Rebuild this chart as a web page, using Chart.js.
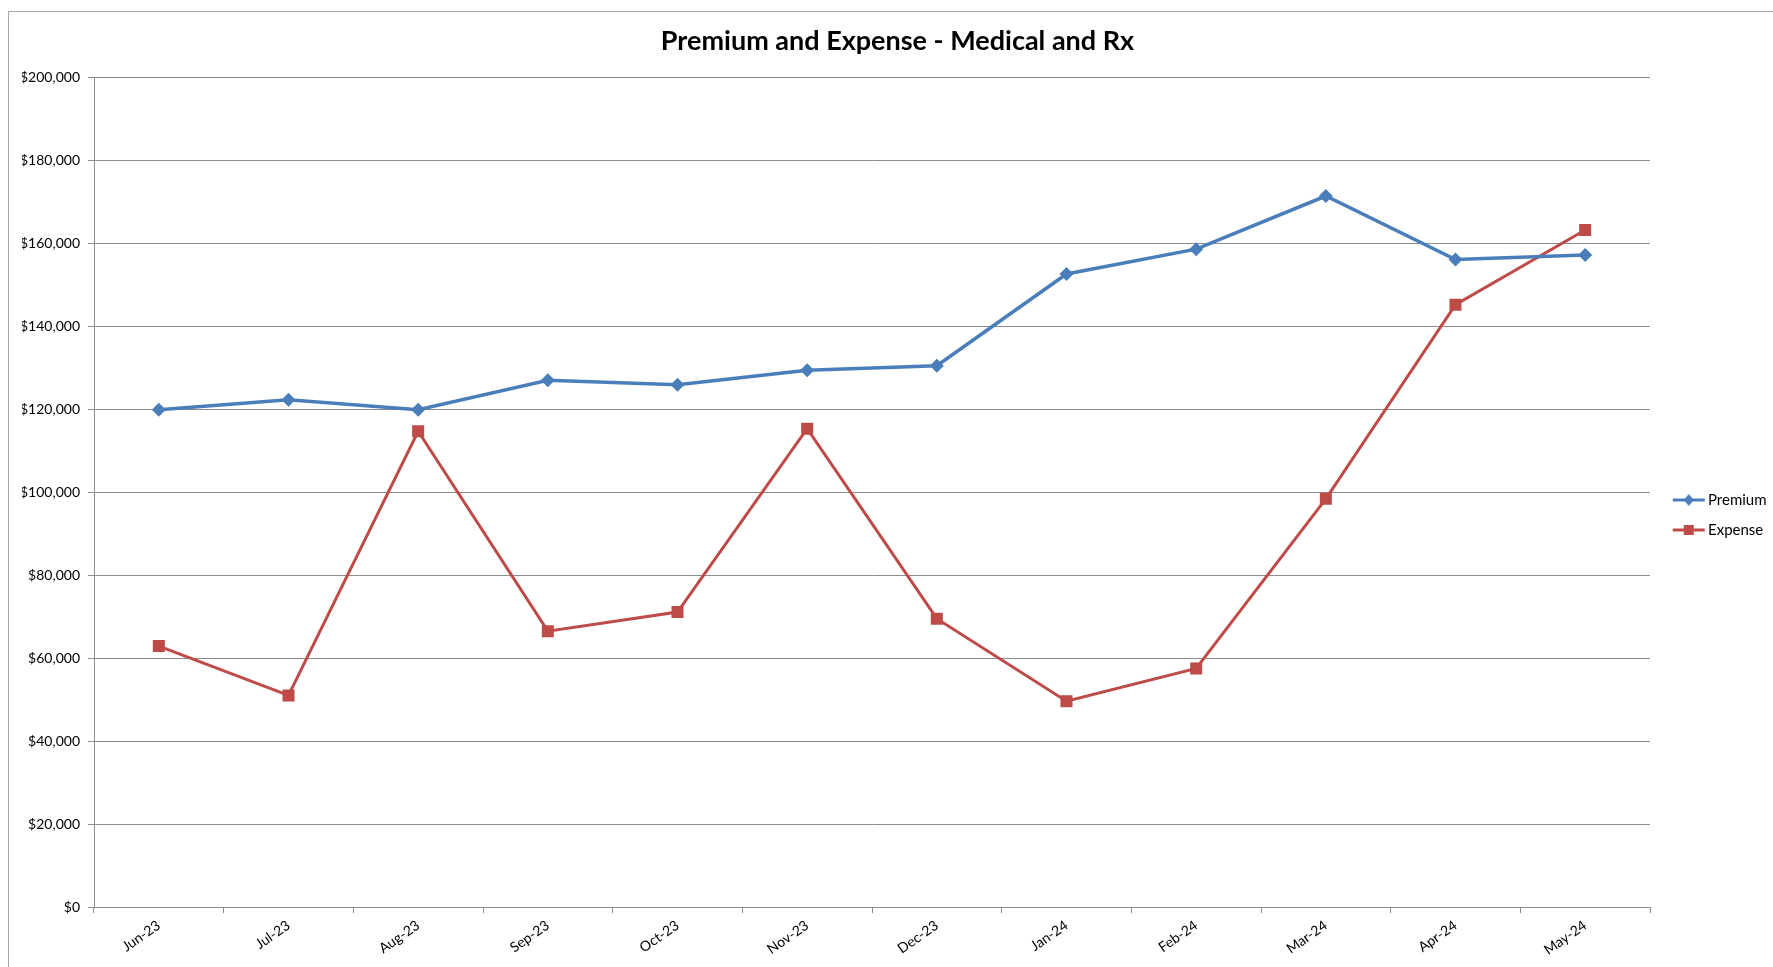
<!DOCTYPE html>
<html lang="en">
<head>
  <meta charset="UTF-8">
  <title>Premium and Expense - Medical and Rx</title>
  <script src="https://cdn.jsdelivr.net/npm/chart.js"></script>
  <style>
    html, body { margin: 0; padding: 0; background: #fff; }
    #wrap { position: relative; width: 1773px; height: 967px; }
    #frame { position: absolute; left: 8px; top: 11px; right: -5px; bottom: -5px; border: 1px solid #a6a6a6; pointer-events: none; }
  </style>
</head>
<body>
  <div id="wrap">
    <canvas id="chart" width="1773" height="967"></canvas>
    <div id="frame"></div>
  </div>

  <script>
    // data
    const months = ['Jun-23', 'Jul-23', 'Aug-23', 'Sep-23', 'Oct-23', 'Nov-23', 'Dec-23', 'Jan-24', 'Feb-24', 'Mar-24', 'Apr-24', 'May-24'];
    const premium = [119900, 122300, 119900, 127000, 125900, 129400, 130500, 152600, 158600, 171400, 156100, 157200];
    const expense = [62900, 51000, 114700, 66500, 71100, 115300, 69500, 49600, 57500, 98400, 145200, 163200];
    const yTicks = [0, 20000, 40000, 60000, 80000, 100000, 120000, 140000, 160000, 180000, 200000];

    const blue = '#4a7ebb';
    const red = '#be4b48';
    const gridGray = '#8c8c8c';

    // little line + marker picture for the legend
    function legendIcon(color, shape) {
      const c = document.createElement('canvas');
      c.width = 46; c.height = 14;
      const g = c.getContext('2d');
      g.strokeStyle = color;
      g.lineWidth = 3;
      g.beginPath(); g.moveTo(13, 7); g.lineTo(45, 7); g.stroke();
      g.fillStyle = color;
      g.beginPath();
      if (shape === 'diamond') {
        g.moveTo(29, 1); g.lineTo(34, 7); g.lineTo(29, 13); g.lineTo(24, 7);
      } else {
        g.rect(24, 2, 10, 10);
      }
      g.closePath(); g.fill();
      return c;
    }
    const icons = [legendIcon(blue, 'diamond'), legendIcon(red, 'square')];

    const money = v => '$' + v.toLocaleString('en-US');

    const ctx = document.getElementById('chart').getContext('2d');
    const chart = new Chart(ctx, {
      type: 'line',
      data: {
        labels: months,
        datasets: [
          { label: 'Premium', data: premium, borderColor: blue, backgroundColor: blue, borderWidth: 3.5,
            pointStyle: 'rectRot', pointRadius: 7, pointBorderWidth: 0, tension: 0 },
          { label: 'Expense', data: expense, borderColor: red, backgroundColor: red, borderWidth: 3,
            pointStyle: 'rect', pointRadius: 8.5, pointBorderWidth: 0, tension: 0 }
        ]
      },
      options: {
        responsive: false,
        animation: false,
        layout: { padding: { left: 22, right: 0, top: 0, bottom: 0 } },
        plugins: {
          title: {
            display: true,
            text: 'Premium and Expense - Medical and Rx',
            color: '#000',
            font: { family: 'Lato', size: 27, weight: 'bold', lineHeight: 1.2 },
            padding: { top: 25, bottom: 20 }
          },
          legend: {
            position: 'right',
            maxWidth: 123,
            title: { display: true, text: ' ', font: { size: 15 }, padding: { top: 0, bottom: 45 } },
            labels: {
              usePointStyle: true,
              pointStyleWidth: 35.5,
              padding: 15,
              color: '#000',
              font: { family: 'Lato', size: 15 },
              generateLabels: (c) => Chart.defaults.plugins.legend.labels.generateLabels(c)
                .map((item, i) => Object.assign(item, { pointStyle: icons[i] }))
            }
          },
          tooltip: { enabled: false }
        },
        scales: {
          x: {
            offset: true,
            grid: { offset: true, drawOnChartArea: false, drawTicks: true, tickLength: 6, color: gridGray },
            border: { color: gridGray, width: 1 },
            ticks: {
              color: '#000', font: { family: 'Lato', size: 14 },
              minRotation: 35, maxRotation: 35, padding: 4, autoSkip: false
            },
            afterFit: (s) => { s.height = 60; }
          },
          y: {
            min: 0,
            max: 200000,
            afterBuildTicks: (s) => { s.ticks = yTicks.map(v => ({ value: v })); },
            grid: { color: gridGray, lineWidth: 1, tickLength: 6 },
            border: { color: gridGray, width: 1 },
            ticks: {
              color: '#000', font: { family: 'Lato', size: 14 },
              padding: 8,
              callback: (v) => money(v)
            },
            afterFit: (s) => { s.width = 72; }
          }
        }
      }
    });
  </script>
</body>
</html>
